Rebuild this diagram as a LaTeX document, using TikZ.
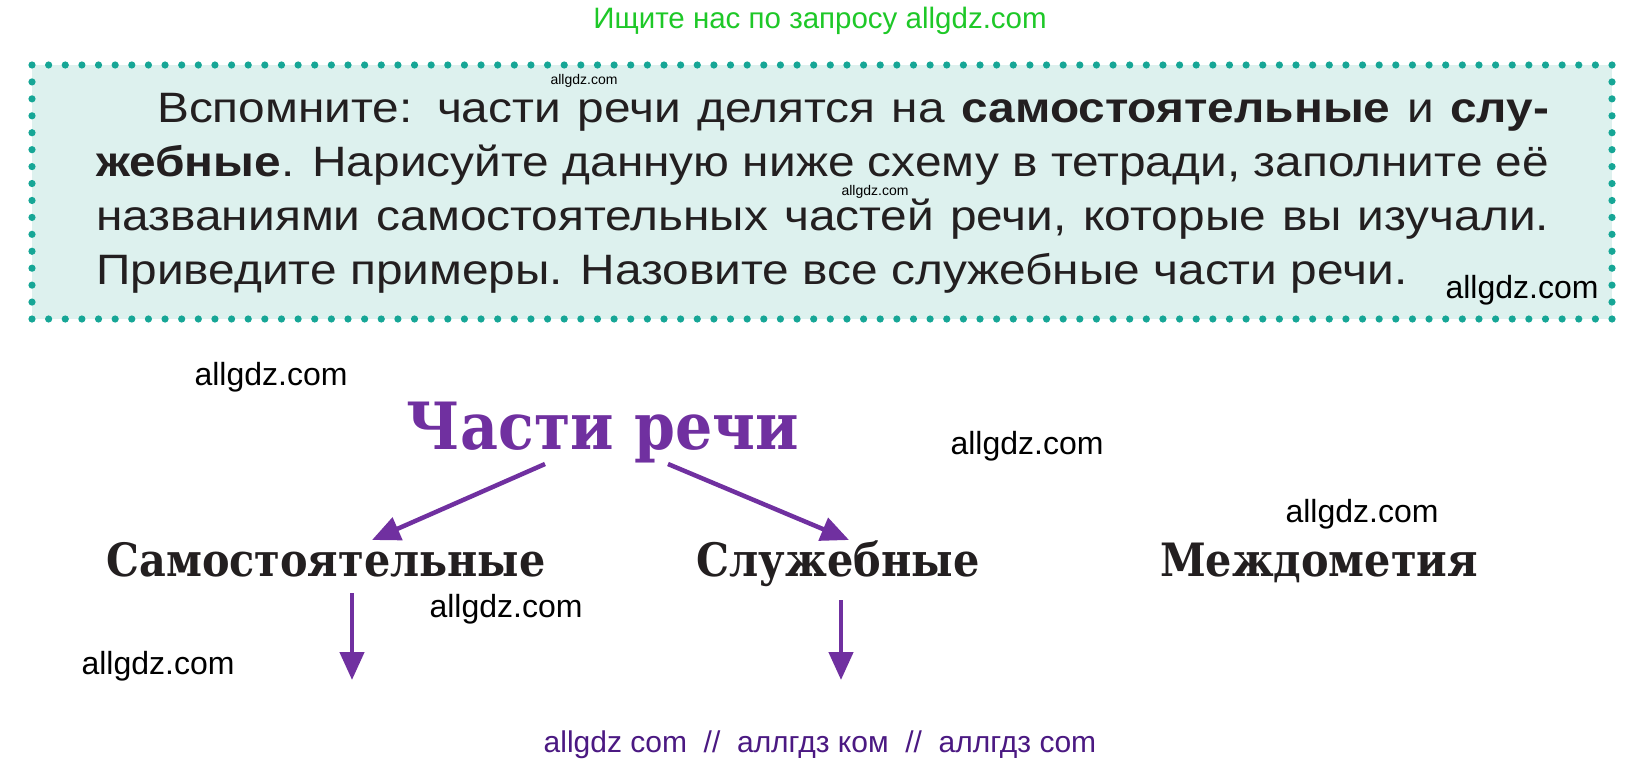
\documentclass[tikz,border=0pt]{standalone}
\usepackage{fontspec}
\usepackage{graphicx}
\usetikzlibrary{arrows.meta}
\newfontfamily\boxfont[FakeStretch=1.125]{Liberation Sans}
\newfontfamily\wmfont{Liberation Sans}
\newfontfamily\schfont[FakeStretch=0.9]{DejaVu Serif}
\definecolor{mint}{RGB}{221,241,238}
\definecolor{dotteal}{RGB}{22,166,150}
\definecolor{ink}{RGB}{35,31,32}
\definecolor{violet}{RGB}{112,48,160}
\definecolor{wmgreen}{RGB}{30,200,40}
\definecolor{wmpurple}{RGB}{75,25,130}
\tikzset{
  boxline/.style={anchor=base west, inner sep=0pt, text=ink, font=\boxfont\fontsize{42.5pt}{54pt}\selectfont},
  wm/.style={anchor=base, inner sep=0pt, text=black, font=\wmfont\fontsize{32pt}{36pt}\selectfont},
  wmsmall/.style={anchor=center, inner sep=0pt, text=black, font=\wmfont\fontsize{14pt}{16pt}\selectfont},
  label/.style={anchor=base, inner sep=0pt, text=ink, font=\schfont\bfseries},
  parrow/.style={draw=violet, line width=4.5pt, -{Triangle[length=28pt,width=24pt]}}
}
\begin{document}
\begin{tikzpicture}[x=1pt,y=-1pt]
\fill[white] (0,0) rectangle (1643,763);
\useasboundingbox (0,0) rectangle (1643,763);
% top watermark
\node[anchor=base, inner sep=0pt, text=wmgreen, font=\wmfont\fontsize{29.5pt}{32pt}\selectfont] (topwm) at (820,28) {Ищите нас по запросу allgdz.com};
% box
\fill[mint] (32,65) rectangle (1612,319);
\foreach \i in {0,...,95} {
  \fill[dotteal] ({32+\i*16.6316},65) circle (3.6pt);
  \fill[dotteal] ({32+\i*16.6316},319) circle (3.6pt);
}
\foreach \j in {1,...,14} {
  \fill[dotteal] (32,{65+\j*16.9333}) circle (3.6pt);
  \fill[dotteal] (1612,{65+\j*16.9333}) circle (3.6pt);
}
\node[boxline] (l1) at (96,122) {\makebox[1453pt][s]{\hspace*{61pt}Вспомните: части речи делятся на \textbf{самостоятельные} и \textbf{слу-}}};
\node[boxline] (l2) at (96,176) {\makebox[1453pt][s]{\textbf{жебные}. Нарисуйте данную ниже схему в тетради, заполните её}};
\node[boxline] (l3) at (96,230) {\makebox[1453pt][s]{названиями самостоятельных частей речи, которые вы изучали.}};
\node[boxline] (l4) at (96,284) {Приведите примеры. Назовите все служебные части речи.};
\node[wmsmall] (ws1) at (584,81) {allgdz.com};
\node[wmsmall] (ws2) at (875,192) {allgdz.com};
\node[wm] (w0) at (1522,298) {allgdz.com};
% watermarks outside
\node[wm] (w1) at (271,385) {allgdz.com};
\node[wm] (w2) at (1027,454) {allgdz.com};
\node[wm] (w3) at (1362,522) {allgdz.com};
\node[wm] (w4) at (506,617) {allgdz.com};
\node[wm] (w5) at (158,674) {allgdz.com};
% diagram
\node[label, text=violet] (title) at (603,449) {\resizebox{392pt}{!}{Части речи}};
\node[label] (sam) at (326,576) {\resizebox{439pt}{!}{Самостоятельные}};
\node[label] (sluzh) at (838,576) {\resizebox{283pt}{!}{Служебные}};
\node[label] (mezh) at (1319,576) {\resizebox{318pt}{!}{Междометия}};
\coordinate (a1s) at (545,464);
\coordinate (a1e) at (372,540);
\coordinate (a2s) at (668,464);
\coordinate (a2e) at (849,540);
\coordinate (a3s) at (352,593);
\coordinate (a3e) at (352,680);
\coordinate (a4s) at (841,600);
\coordinate (a4e) at (841,680);
\draw[parrow] (a1s) -- (a1e);
\draw[parrow] (a2s) -- (a2e);
\draw[parrow] (a3s) -- (a3e);
\draw[parrow] (a4s) -- (a4e);
% bottom watermark
\node[anchor=base, inner sep=0pt, text=wmpurple, font=\wmfont\fontsize{30pt}{32pt}\selectfont] (botwm) at (820,752) {allgdz com\ \ //\ \ аллгдз ком\ \ //\ \ аллгдз com};
\end{tikzpicture}
\end{document}
